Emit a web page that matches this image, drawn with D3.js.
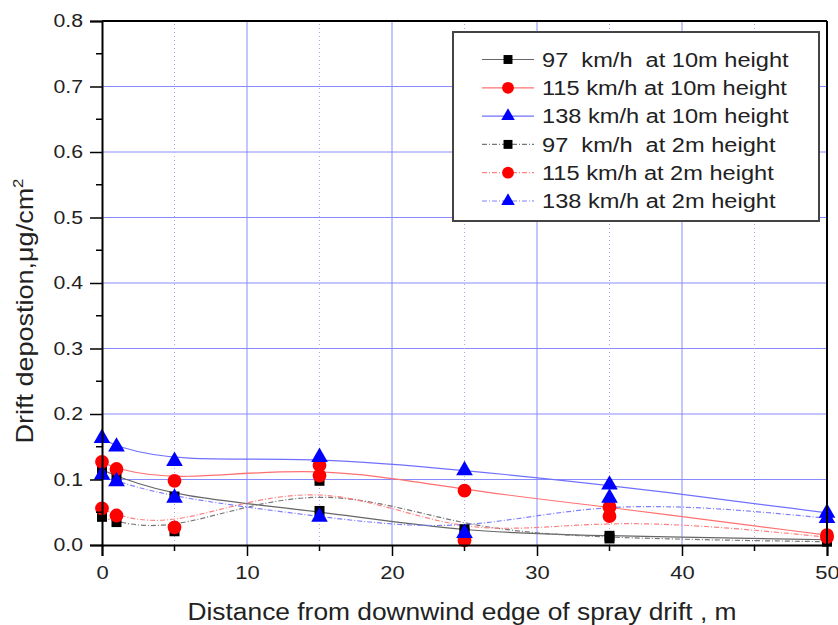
<!DOCTYPE html>
<html>
<head>
<meta charset="utf-8">
<script src="https://cdn.jsdelivr.net/npm/d3@7"></script>
<style>
  body { margin: 0; background: #fff; }
  text { font-family: Arial, "Liberation Sans", sans-serif; }
</style>
</head>
<body>
<script>
// distances (m) where samples were taken
const distances = [0, 1, 5, 15, 25, 35, 50];

// drift deposition values, ug/cm2
const v97_10  = [0.115, 0.105, 0.074, 0.052, 0.019, 0.014, 0.008];
const v115_10 = [0.127, 0.116, 0.098, 0.122, 0.083, 0.058, 0.015];
const v138_10 = [0.163, 0.150, 0.128, 0.134, 0.114, 0.092, 0.049];
const v97_2   = [0.043, 0.035, 0.021, 0.098, 0.024, 0.010, 0.005];
const v115_2  = [0.056, 0.045, 0.027, 0.106, 0.007, 0.044, 0.012];
const v138_2  = [0.107, 0.097, 0.072, 0.043, 0.018, 0.072, 0.041];

const seriesNames = [
  "97  km/h  at 10m height",
  "115 km/h at 10m height",
  "138 km/h at 10m height",
  "97  km/h  at 2m height",
  "115 km/h at 2m height",
  "138 km/h at 2m height"
];

const xTicks = [0, 10, 20, 30, 40, 50];
const yTicks = [0.0, 0.1, 0.2, 0.3, 0.4, 0.5, 0.6, 0.7, 0.8];

const width = 838, height = 625;
const margin = {top: 21, right: 11, bottom: 80, left: 102};

const svg = d3.select("body").append("svg")
    .attr("width", width)
    .attr("height", height);

const x = d3.scaleLinear().domain([0, 50]).range([margin.left, width - margin.right]);
const y = d3.scaleLinear().domain([0, 0.8]).range([height - margin.bottom, margin.top]);

// the original text is a bit wider than Liberation Sans, stretch it
function widen(sel, k) {
  sel.each(function() {
    const len = this.getComputedTextLength();
    d3.select(this).attr("textLength", len * k).attr("lengthAdjust", "spacingAndGlyphs");
  });
}

// series styling
const series = [
  {vals: v97_10,  marker: "square",   color: "#000", line: "#666",    dash: null},
  {vals: v115_10, marker: "circle",   color: "#f00", line: "#ff7070", dash: null},
  {vals: v138_10, marker: "triangle", color: "#00f", line: "#7070ff", dash: null},
  {vals: v97_2,   marker: "square",   color: "#000", line: "#777",    dash: "5,2,1,2"},
  {vals: v115_2,  marker: "circle",   color: "#f00", line: "#ff8080", dash: "5,2,1,2"},
  {vals: v138_2,  marker: "triangle", color: "#00f", line: "#8080ff", dash: "5,2,1,2"}
];
series.forEach((s, i) => s.name = seriesNames[i]);

// grid
const grid = svg.append("g");
grid.selectAll(".hg").data(yTicks.slice(1, -1)).enter().append("line")
    .attr("x1", x(0)).attr("x2", x(50))
    .attr("y1", d => y(d)).attr("y2", d => y(d))
    .attr("stroke", "#8a8aff").attr("stroke-width", 1);
grid.selectAll(".vg").data([10, 20, 30, 40]).enter().append("line")
    .attr("x1", d => x(d)).attr("x2", d => x(d))
    .attr("y1", y(0)).attr("y2", y(0.8))
    .attr("stroke", "#8a8aff").attr("stroke-width", 1);
grid.selectAll(".vm").data([5, 15, 25, 35, 45]).enter().append("line")
    .attr("x1", d => x(d)).attr("x2", d => x(d))
    .attr("y1", y(0)).attr("y2", y(0.8))
    .attr("stroke", "#a8a8ee").attr("stroke-width", 1)
    .attr("stroke-dasharray", "1,3");

// smoothed curves (B-spline like Origin)
const lineGen = d3.line()
    .x((d, i) => x(distances[i]))
    .y(d => y(d))
    .curve(d3.curveBasis);

svg.append("g").selectAll("path").data(series).enter().append("path")
    .attr("d", d => lineGen(d.vals))
    .attr("fill", "none")
    .attr("stroke", d => d.line)
    .attr("stroke-width", 1.2)
    .attr("stroke-dasharray", d => d.dash);

// markers
const sym = {
  square: d3.symbol().type(d3.symbolSquare).size(100),
  circle: d3.symbol().type(d3.symbolCircle).size(150),
  triangle: d3.symbol().type(d3.symbolTriangle).size(120)
};

series.forEach(s => {
  svg.append("g").selectAll("path").data(s.vals).enter().append("path")
      .attr("d", sym[s.marker]())
      .attr("transform", (d, i) => `translate(${x(distances[i])},${y(d)})`)
      .attr("fill", s.color);
});

// axes
const xAxis = d3.axisBottom(x).tickValues(xTicks).tickSize(11).tickFormat(d3.format("d"));
const yAxis = d3.axisLeft(y).tickValues(yTicks).tickSize(12).tickFormat(d3.format(".1f"));

const gx = svg.append("g").attr("transform", `translate(0,${y(0)})`).call(xAxis);
const gy = svg.append("g").attr("transform", `translate(${x(0)},0)`).call(yAxis);

// minor ticks
gx.selectAll(".minor").data([5, 15, 25, 35, 45]).enter().append("line")
    .attr("x1", d => x(d)).attr("x2", d => x(d))
    .attr("y1", 0).attr("y2", 6).attr("stroke", "#000").attr("stroke-width", 1.5);
gy.selectAll(".minor").data([0.05, 0.15, 0.25, 0.35, 0.45, 0.55, 0.65, 0.75]).enter().append("line")
    .attr("y1", d => y(d)).attr("y2", d => y(d))
    .attr("x1", 0).attr("x2", -6).attr("stroke", "#000").attr("stroke-width", 1.5);

[gx, gy].forEach(g => {
  g.select(".domain").attr("stroke-width", 2);
  g.selectAll(".tick line").attr("stroke-width", 1.5);
  g.selectAll(".tick text").attr("font-size", 18).attr("fill", "#222");
});
gx.selectAll(".tick text").attr("y", 34).attr("dy", 0);
gy.selectAll(".tick text").attr("x", -19);
widen(gx.selectAll(".tick text"), 1.22);
widen(gy.selectAll(".tick text"), 1.18);

// frame top and right
svg.append("line").attr("x1", x(0)).attr("x2", x(50)).attr("y1", y(0.8)).attr("y2", y(0.8))
    .attr("stroke", "#000").attr("stroke-width", 2);
svg.append("line").attr("x1", x(50)).attr("x2", x(50)).attr("y1", y(0.8)).attr("y2", y(0))
    .attr("stroke", "#000").attr("stroke-width", 2);

// axis titles
svg.append("text")
    .attr("x", 462)
    .attr("y", 620)
    .attr("text-anchor", "middle")
    .attr("font-size", 23)
    .attr("fill", "#222")
    .attr("textLength", 549)
    .attr("lengthAdjust", "spacingAndGlyphs")
    .text("Distance from downwind edge of spray drift , m");

const yt = svg.append("text")
    .attr("transform", "translate(33,311) rotate(-90)")
    .attr("text-anchor", "middle")
    .attr("font-size", 24)
    .attr("fill", "#222")
    .attr("textLength", 265)
    .attr("lengthAdjust", "spacingAndGlyphs");
yt.append("tspan").text("Drift depostion,μg/cm");
yt.append("tspan").attr("dy", -10).attr("font-size", 15).text("2");

// legend
const lg = svg.append("g").attr("transform", "translate(453,32)");
lg.append("rect").attr("width", 366).attr("height", 189)
    .attr("fill", "#fff").attr("stroke", "#444").attr("stroke-width", 2);

const rows = lg.selectAll(".row").data(series).enter().append("g")
    .attr("transform", (d, i) => `translate(0,${27.5 + i * 28.3})`);
rows.append("line")
    .attr("x1", 29).attr("x2", 81)
    .attr("stroke", d => d.line).attr("stroke-width", 1.2)
    .attr("stroke-dasharray", d => d.dash);
rows.append("path")
    .attr("d", d => sym[d.marker].size(d.marker === "circle" ? 110 : 80)())
    .attr("transform", "translate(55,0)")
    .attr("fill", d => d.color);
const lt = rows.append("text")
    .attr("x", 89).attr("dy", "0.36em")
    .attr("font-size", 20).attr("fill", "#222")
    .style("white-space", "pre")
    .text(d => d.name);
widen(lt, 1.18);
</script>
</body>
</html>
